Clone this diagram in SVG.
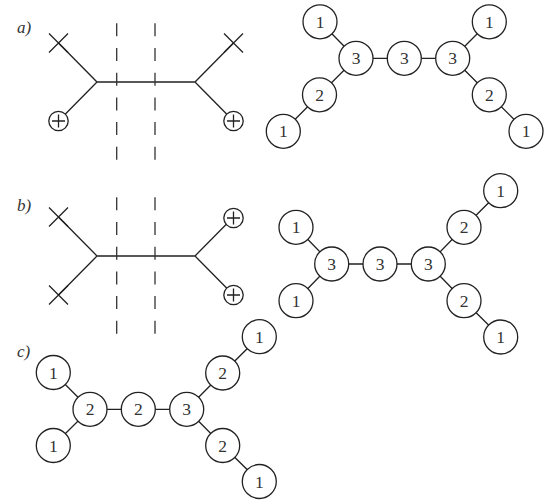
<svg xmlns="http://www.w3.org/2000/svg" width="554" height="504" viewBox="0 0 554 504">
<style>
.e{stroke:#222;stroke-width:1.3;fill:none}
.d{stroke:#333;stroke-width:1.3;stroke-dasharray:13 11.7;fill:none}
.n circle{fill:#fff;stroke:#222;stroke-width:1.3}
.n text{font-family:"Liberation Serif","DejaVu Serif",serif;font-size:17.5px;fill:#333;text-anchor:middle}
.lab{font-family:"Liberation Serif","DejaVu Serif",serif;font-style:italic;font-size:17px;fill:#333}
.pc{fill:#fff;stroke:#222;stroke-width:1.3}
</style>
<defs>
<g id="cross"><path class="e" d="M-9.5,-9.5L9.5,9.5M-9.5,9.5L9.5,-9.5"/></g>
<g id="plus"><circle class="pc" r="9.7"/><path class="e" d="M-6.5,0H6.5M0,-6.5V6.5"/></g>
</defs>

<text class="lab" x="17" y="33">a)</text>
<text class="lab" x="17" y="211">b)</text>
<text class="lab" x="17" y="357">c)</text>

<!-- Feynman-like diagram a -->
<g id="diagA">
<path class="e" d="M58.5,43L97,82H195L233.5,43M97,82L58.5,121M195,82L233.5,121"/>
<path class="d" d="M116.7,23.3V160M155,23.3V160"/>
<use href="#cross" x="58.5" y="43"/>
<use href="#cross" x="233.5" y="43"/>
<use href="#plus" x="58.5" y="121"/>
<use href="#plus" x="233.5" y="121"/>
</g>

<!-- diagram b -->
<g id="diagB">
<path class="e" d="M58.5,217L97,256H195L233.5,217M97,256L58.5,295M195,256L233.5,295"/>
<path class="d" d="M116.7,197.3V334M155,197.3V334"/>
<use href="#cross" x="58.5" y="217"/>
<use href="#cross" x="58.5" y="295"/>
<use href="#plus" x="233.5" y="218"/>
<use href="#plus" x="233.5" y="295"/>
</g>

<!-- connectors -->
<g id="connectors" class="e">
<path d="M320,21.8L356,58.3H452.7L489.3,21.8M356,58.3L319.5,94.8L283.3,131.3M452.7,58.3L489.3,94.8L526,131.3"/>
<path d="M296,227.3L331.7,264L296,300.7M331.7,264H428.3L464,227.3L500.7,190.7M428.3,264L464,300.7L500.7,337"/>
<path d="M53.3,372.5L90,409.3L53.3,445.5M90,409.3H186.7L222.7,373L259.3,336.7M186.7,409.3L222.7,445.5L259.3,481.5"/>
</g>

<g id="a1" class="n"><circle cx="320" cy="21.8" r="17"/><text x="320" y="27.8">1</text></g>
<g id="a2" class="n"><circle cx="356" cy="58.3" r="17"/><text x="356" y="64.3">3</text></g>
<g id="a3" class="n"><circle cx="404.3" cy="58.3" r="17"/><text x="404.3" y="64.3">3</text></g>
<g id="a4" class="n"><circle cx="452.7" cy="58.3" r="17"/><text x="452.7" y="64.3">3</text></g>
<g id="a5" class="n"><circle cx="489.3" cy="21.8" r="17"/><text x="489.3" y="27.8">1</text></g>
<g id="a6" class="n"><circle cx="319.5" cy="94.8" r="17"/><text x="319.5" y="100.8">2</text></g>
<g id="a7" class="n"><circle cx="283.3" cy="131.3" r="17"/><text x="283.3" y="137.3">1</text></g>
<g id="a8" class="n"><circle cx="489.3" cy="94.8" r="17"/><text x="489.3" y="100.8">2</text></g>
<g id="a9" class="n"><circle cx="526" cy="131.3" r="17"/><text x="526" y="137.3">1</text></g>

<g id="b1" class="n"><circle cx="296" cy="227.3" r="17"/><text x="296" y="233.3">1</text></g>
<g id="b2" class="n"><circle cx="331.7" cy="264" r="17"/><text x="331.7" y="270">3</text></g>
<g id="b3" class="n"><circle cx="380" cy="264" r="17"/><text x="380" y="270">3</text></g>
<g id="b4" class="n"><circle cx="428.3" cy="264" r="17"/><text x="428.3" y="270">3</text></g>
<g id="b5" class="n"><circle cx="296" cy="300.7" r="17"/><text x="296" y="306.7">1</text></g>
<g id="b6" class="n"><circle cx="464" cy="227.3" r="17"/><text x="464" y="233.3">2</text></g>
<g id="b7" class="n"><circle cx="500.7" cy="190.7" r="17"/><text x="500.7" y="196.7">1</text></g>
<g id="b8" class="n"><circle cx="464" cy="300.7" r="17"/><text x="464" y="306.7">2</text></g>
<g id="b9" class="n"><circle cx="500.7" cy="337" r="17"/><text x="500.7" y="343">1</text></g>

<g id="c1" class="n"><circle cx="53.3" cy="372.5" r="17"/><text x="53.3" y="378.5">1</text></g>
<g id="c2" class="n"><circle cx="90" cy="409.3" r="17"/><text x="90" y="415.3">2</text></g>
<g id="c3" class="n"><circle cx="138.3" cy="409.3" r="17"/><text x="138.3" y="415.3">2</text></g>
<g id="c4" class="n"><circle cx="186.7" cy="409.3" r="17"/><text x="186.7" y="415.3">3</text></g>
<g id="c5" class="n"><circle cx="53.3" cy="445.5" r="17"/><text x="53.3" y="451.5">1</text></g>
<g id="c6" class="n"><circle cx="222.7" cy="373" r="17"/><text x="222.7" y="379">2</text></g>
<g id="c7" class="n"><circle cx="259.3" cy="336.7" r="17"/><text x="259.3" y="342.7">1</text></g>
<g id="c8" class="n"><circle cx="222.7" cy="445.5" r="17"/><text x="222.7" y="451.5">2</text></g>
<g id="c9" class="n"><circle cx="259.3" cy="481.5" r="17"/><text x="259.3" y="487.5">1</text></g>
</svg>
